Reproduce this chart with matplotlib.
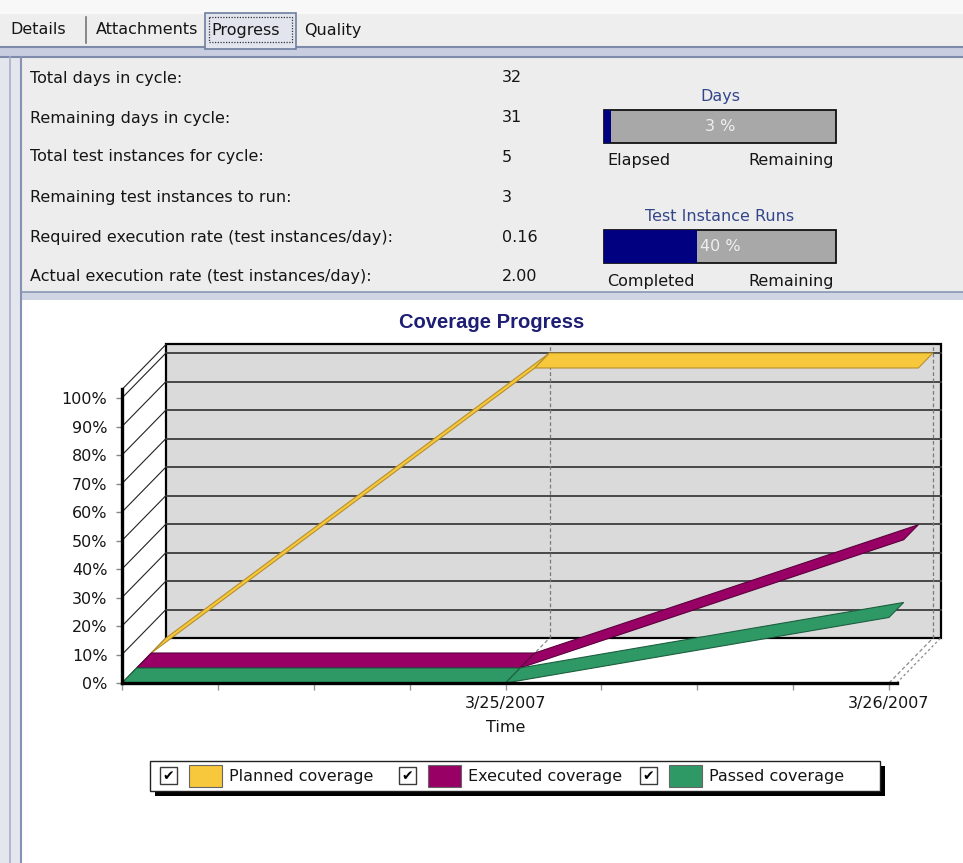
import matplotlib
matplotlib.use("Agg")
import matplotlib.pyplot as plt
from matplotlib.patches import Rectangle, Polygon
import numpy as np

# ---------------- data ----------------
tabs = ["Details", "Attachments", "Progress", "Quality"]
selected_tab = "Progress"
info_labels = ["Total days in cycle:", "Remaining days in cycle:",
               "Total test instances for cycle:", "Remaining test instances to run:",
               "Required execution rate (test instances/day):",
               "Actual execution rate (test instances/day):"]
info_values = ["32", "31", "5", "3", "0.16", "2.00"]
progress_titles = ["Days", "Test Instance Runs"]
progress_pct = [3, 40]
progress_left = ["Elapsed", "Completed"]
progress_right = ["Remaining", "Remaining"]

chart_title = "Coverage Progress"
time_pos = [0, 1, 2]                      # days since 3/24/2007
x_tick_pos = [0, 0.25, 0.5, 0.75, 1, 1.25, 1.5, 1.75, 2]
x_tick_labels = ["", "", "", "", "3/25/2007", "", "", "", "3/26/2007"]
x_label = "Time"
y_ticks = [0, 10, 20, 30, 40, 50, 60, 70, 80, 90, 100]
y_tick_labels = ["0%", "10%", "20%", "30%", "40%", "50%", "60%", "70%", "80%", "90%", "100%"]
planned = [0, 100, 100]
executed = [0, 0, 45]
passed = [0, 0, 23]
series_names = ["Planned coverage", "Executed coverage", "Passed coverage"]
series_colors = ["#F7C83C", "#990066", "#2F9966"]
series_edges = ["#B8902A", "#5A003C", "#1C5E3E"]

# ---------------- layout constants ----------------
W, H = 963, 863
plt.rcParams["font.family"] = ["DejaVu Sans"]
FS = 11.5
TXT = "#151515"

fig = plt.figure(figsize=(W / 100, H / 100), dpi=100)
fig.patch.set_facecolor("#EEEEEE")
ui = fig.add_axes([0, 0, 1, 1])
ui.set_xlim(0, W)
ui.set_ylim(H, 0)
ui.axis("off")

# top strip / tabs
ui.add_patch(Rectangle((0, 0), W, 14, facecolor="#F8F8F8", edgecolor="none"))
ui.add_patch(Rectangle((0, 14), W, 33, facecolor="#EEEEEE", edgecolor="none"))
tab_x = [10, 96, 211, 304]
for name, tx in zip(tabs, tab_x):
    if name == selected_tab:
        ui.add_patch(Rectangle((tx - 6, 13), 91, 36, facecolor="#E2E5EE",
                               edgecolor="#6F7F9F", lw=1.2, zorder=2))
        ui.add_patch(Rectangle((tx - 2, 17), 83, 25, facecolor="none",
                               edgecolor="#333333", lw=0.9, ls=(0, (1, 1.2)), zorder=3))
    ui.text(tx, 30, name, fontsize=FS, color=TXT, va="center", ha="left", zorder=4)
ui.plot([86, 86], [17, 43], color="#777777", lw=1.2)

# band under tabs
ui.add_patch(Rectangle((0, 47), W, 10, facecolor="#C8CEDF", edgecolor="none", zorder=1))
ui.plot([0, W], [47, 47], color="#7D8AAA", lw=1.5, zorder=1.5)
ui.plot([0, W], [57, 57], color="#7D8AAA", lw=1.5, zorder=1.5)

# left strip
ui.add_patch(Rectangle((0, 57), 22, H - 57, facecolor="#E4E6EE", edgecolor="none"))
ui.plot([10, 10], [57, H], color="#A7AFC8", lw=1.2)
ui.plot([21, 21], [57, H], color="#8791B3", lw=1.5)

# info panel
ui.add_patch(Rectangle((22, 57), W - 22, 236, facecolor="#EDEDED", edgecolor="none"))
row_y = [78, 118, 157, 197, 237, 276]
for lab, val, ry in zip(info_labels, info_values, row_y):
    ui.text(30, ry, lab, fontsize=FS, color=TXT, va="center", ha="left")
    ui.text(502, ry, val, fontsize=FS, color=TXT, va="center", ha="left")

# progress bars
bar_top = [110, 230]
BX, BW, BH = 604, 232, 33
for title, pct, l, r, by in zip(progress_titles, progress_pct, progress_left,
                                progress_right, bar_top):
    ui.text(BX + BW / 2, by - 14, title, fontsize=FS, color="#34468A",
            ha="center", va="center")
    ui.add_patch(Rectangle((BX, by), BW, BH, facecolor="#A8A8A8",
                           edgecolor="#111111", lw=1.3, zorder=2))
    ui.add_patch(Rectangle((BX, by), BW * pct / 100.0, BH, facecolor="#000080",
                           edgecolor="none", zorder=3))
    ui.text(BX + BW / 2, by + BH / 2, f"{pct} %", fontsize=FS, color="#EFEFEF",
            ha="center", va="center", zorder=4)
    ui.text(BX + 3, by + 51, l, fontsize=FS, color=TXT, ha="left", va="center")
    ui.text(BX + BW - 2, by + 51, r, fontsize=FS, color=TXT, ha="right", va="center")

# separator band + chart panel
ui.add_patch(Rectangle((22, 292), W - 22, 8, facecolor="#D0D5E4", edgecolor="none"))
ui.plot([22, W], [292, 292], color="#8A96B6", lw=1.2)
ui.add_patch(Rectangle((22, 300), W - 22, H - 300, facecolor="white", edgecolor="none"))

ui.text(492, 322, chart_title, fontsize=14.5, fontweight="bold", color="#1E1E74",
        family=["Liberation Sans"], ha="center", va="center")

# legend
LX, LY, LW, LH = 150, 761, 730, 30
ui.add_patch(Rectangle((LX + 5, LY + 5), LW, LH, facecolor="black", edgecolor="none", zorder=2))
ui.add_patch(Rectangle((LX, LY), LW, LH, facecolor="white", edgecolor="#222222", lw=1, zorder=3))
leg_x = [160, 399, 640]
for name, col, edge, cx in zip(series_names, series_colors, series_edges, leg_x):
    ui.add_patch(Rectangle((cx, LY + 6), 17, 17, facecolor="white",
                           edgecolor="#3A3A3A", lw=1, zorder=4))
    ui.text(cx + 8.5, LY + 15, "\u2714", fontsize=10, color="black",
            ha="center", va="center", zorder=5)
    ui.add_patch(Rectangle((cx + 29, LY + 4), 33, 22, facecolor=col,
                           edgecolor="#666666", lw=0.8, zorder=4))
    ui.text(cx + 69, LY + 15, name, fontsize=FS, color=TXT, ha="left",
            va="center", zorder=5)

# ---------------- 3D chart ----------------
X0, Y0 = 122, 683          # pixel origin (front, 0%, day 0)
PXX, PXY = 383.5, 2.85     # pixels per day, per percent
RIGHT, TOP = 945, 335
XMAX = (RIGHT - X0) / PXX
YMAX = (Y0 - TOP) / PXY
ODX, ODY = 44 / PXX, 45 / PXY     # full depth offset in data units
XEND = 2.02
WALL_H = 103

ch = fig.add_axes([X0 / W, (H - Y0) / H, (RIGHT - X0) / W, (Y0 - TOP) / H], zorder=5)
ch.patch.set_alpha(0)
ch.set_xlim(0, XMAX)
ch.set_ylim(0, YMAX)

# back wall
ch.add_patch(Rectangle((ODX, ODY), XEND, WALL_H, facecolor="#DADADA",
                       edgecolor="black", lw=1.6, zorder=1))
for yv in y_ticks[1:]:
    ch.plot([ODX, ODX + XEND], [yv + ODY, yv + ODY], color="#3C3C3C", lw=1.3, zorder=1.2)
# left wall lines
for yv in y_ticks + [WALL_H]:
    ch.plot([0, ODX], [yv, yv + ODY], color="#222222", lw=0.8, zorder=1.2)
# dashed date lines (floor + wall)
for xv in time_pos[1:]:
    ch.plot([xv, xv + ODX], [0, ODY], color="#8A8A8A", lw=0.9, ls=(0, (3, 2)), zorder=1.3)
    ch.plot([xv + ODX, xv + ODX], [ODY, ODY + WALL_H], color="#7A7A7A", lw=0.9,
            ls=(0, (3, 2)), zorder=1.3)
ch.plot([XEND, XEND + ODX], [0, ODY], color="#8A8A8A", lw=0.9, ls=(0, (2, 2)), zorder=1.3)

# ribbons: planned at back, executed middle, passed front
series_vals = [planned, executed, passed]
depths = [(2 / 3, 1.0), (1 / 3, 2 / 3), (0.0, 1 / 3)]
for k, (vals, col, edge, (d0, d1)) in enumerate(zip(series_vals, series_colors,
                                                    series_edges, depths)):
    for j in range(len(time_pos) - 1):
        xa, xb = time_pos[j], time_pos[j + 1]
        va, vb = vals[j], vals[j + 1]
        pts = [(xa + d0 * ODX, va + d0 * ODY), (xb + d0 * ODX, vb + d0 * ODY),
               (xb + d1 * ODX, vb + d1 * ODY), (xa + d1 * ODX, va + d1 * ODY)]
        ch.add_patch(Polygon(pts, closed=True, facecolor=col, edgecolor=edge,
                             lw=0.8, zorder=2 + 0.1 * k))

# axes / ticks
for s in ["top", "right"]:
    ch.spines[s].set_visible(False)
ch.spines["left"].set_bounds(0, WALL_H)
ch.spines["bottom"].set_bounds(0, XEND)
ch.spines["left"].set_linewidth(2.4)
ch.spines["bottom"].set_linewidth(2.4)
ch.spines["left"].set_zorder(3)
ch.spines["bottom"].set_zorder(3)
ch.set_yticks(y_ticks)
ch.set_yticklabels(y_tick_labels)
ch.set_yticks([v + 2.5 for v in y_ticks[:-1]] + [v + 5 for v in y_ticks[:-1]]
              + [v + 7.5 for v in y_ticks[:-1]], minor=True)
ch.set_xticks(x_tick_pos)
ch.set_xticklabels(x_tick_labels)
ch.tick_params(axis="y", which="major", length=4.5, width=1, color="#888888",
               pad=6, labelsize=FS, labelcolor=TXT)
ch.tick_params(axis="y", which="minor", length=2, width=0.8, color="#888888",
               direction="inout")
ch.tick_params(axis="x", which="major", length=5, width=1, color="#999999",
               pad=4, labelsize=FS, labelcolor=TXT)
ch.set_xlabel(x_label, fontsize=FS, color=TXT)
ch.xaxis.set_label_coords(1 / XMAX, -(727 - Y0) / (Y0 - TOP))
ch.xaxis.label.set_va("center")

fig.savefig("out.png", dpi=100, facecolor=fig.get_facecolor())
